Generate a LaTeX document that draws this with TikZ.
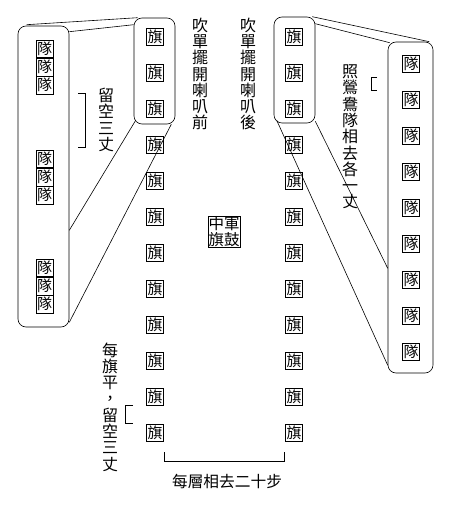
\documentclass[tikz,border=0pt]{standalone}
\usepackage{fontspec}
\setmainfont{Noto Sans CJK TC}
\usetikzlibrary{positioning, calc}
\tikzset{
  flagbox/.style={draw, line width=0.6pt, inner sep=0pt, minimum size=17pt, font=\fontsize{15}{15}\selectfont},
  teambox/.style={draw, line width=0.6pt, inner sep=0pt, minimum width=17pt, minimum height=17.5pt, font=\fontsize{15}{15}\selectfont},
  grp/.style={draw, line width=0.6pt, rounded corners=8pt},
  vlabel/.style={align=center, inner sep=0pt, font=\fontsize{16}{16.3}\selectfont},
  wire/.style={line width=0.6pt}
}

\begin{document}
\begin{tikzpicture}[x=1pt, y=-1pt]
        \useasboundingbox (0,0) rectangle (464,510);
        % two columns of flags
        \foreach \i in {1,...,12} {
          \node[flagbox] (lf\i) at (155, {1+36*\i}) {旗};
          \node[flagbox] (rf\i) at (294, {1+36*\i}) {旗};
        }
        % teams on the right
        \foreach \i in {1,...,9}
          \node[teambox] (rt\i) at (411, {28+36*\i}) {隊};
        % teams on the left, three stacks of three
        \foreach \g/\y in {a/49, b/159, c/268} {
          \node[teambox] (lt\g1) at (44.5,\y) {隊};
          \node[teambox, below=0pt of lt\g1] (lt\g2) {隊};
          \node[teambox, below=0pt of lt\g2] (lt\g3) {隊};
        }
        \node[grp, minimum width=41pt, minimum height=106pt] (lgrp)  at (154.5, 71)    {};
        \node[grp, minimum width=41pt, minimum height=106pt] (rgrp)  at (294.5, 70)    {};
        \node[grp, minimum width=51pt, minimum height=301pt] (lteam) at (43.5, 176.5)  {};
        \node[grp, minimum width=45pt, minimum height=331pt] (rteam) at (410.5, 207.5) {};
        % links between the groups
        \draw[wire] ($(lteam.north west)+(9,-1)$) -- ($(lgrp.north west)+(4,0)$);
        \draw[wire] ($(lteam.north east)+(0,6)$)  -- ($(lgrp.north west)+(0,7)$);
        \draw[wire] ($(lgrp.south west)+(2,-4)$)  -- ($(lteam.south east)+(0,-97)$);
        \draw[wire] ($(lgrp.south east)+(-4,0)$)  -- ($(lteam.south east)+(0,-5)$);
        \draw[wire] ($(rgrp.north east)+(-3,0)$)  -- ($(rteam.north east)+(-4,0)$);
        \draw[wire] ($(rgrp.north east)+(0,7)$)   -- ($(rteam.north west)+(2,1)$);
        \draw[wire] ($(rgrp.south west)+(3,-3)$)  -- ($(rteam.south west)+(0,-8)$);
        \draw[wire] ($(rgrp.south east)+(0,-2)$)  -- ($(rteam.south west)+(0,-105)$);
        % labels
        \node[vlabel] (front) at (200, 74)  {吹\\單\\擺\\開\\喇\\叭\\前};
        \node[vlabel] (back)  at (248, 74)  {吹\\單\\擺\\開\\喇\\叭\\後};
        \node[vlabel] (gap)   at (106, 120) {留\\空\\三\\丈};
        \node[vlabel] (pair)  at (350, 137) {照\\鶯\\鴦\\隊\\相\\去\\各\\一\\丈};
        \node[vlabel] (level) at (110, 407) {每\\旗\\平\\，\\留\\空\\三\\丈};
        \node[draw, line width=0.6pt, inner sep=0.5pt, align=center, font=\fontsize{15.5}{15.5}\selectfont] (hq) at (224, 231.5) {中軍\\旗鼓};
        \node[inner sep=0pt, font=\fontsize{15.7}{15.7}\selectfont] (dist) at (227, 481) {每層相去二十步};
        % brackets
        \draw[wire] (78,93) -- (85,93) -- (85,147) -- (78,147);
        \draw[wire] (377,77) -- (371,77) -- (371,90) -- (377,90);
        \draw[wire] (133,405) -- (125,405) -- (125,423) -- (133,423);
        \draw[wire] (164,452) -- (164,461) -- (284,461) -- (284,452);
      \end{tikzpicture}
\end{document}
